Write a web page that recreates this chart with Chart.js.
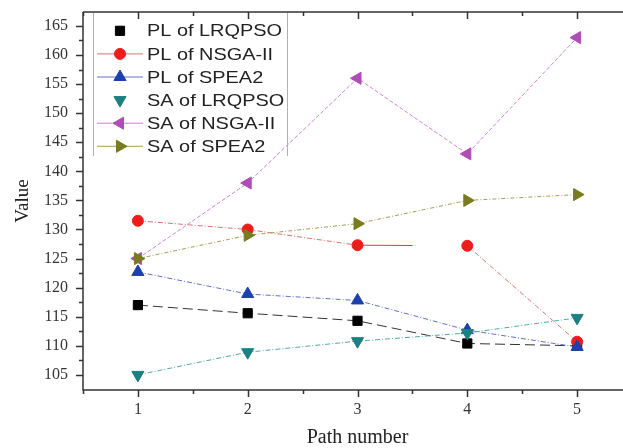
<!DOCTYPE html>
<html>
<head>
<meta charset="utf-8">
<script src="https://cdn.jsdelivr.net/npm/chart.js@4.4.0/dist/chart.umd.min.js"></script>
<style>
html, body { margin: 0; padding: 0; overflow: hidden; background: #fff; }
#wrap { width: 640px; height: 448px; position: relative; }
</style>
</head>
<body>
<div id="wrap"><canvas id="chart"></canvas></div>
<script>
// Значения
const pathNumbers = [1, 2, 3, 4, 5];
const plLRQPSO = [117, 115.6, 114.3, 110.4, 110];
const plNSGA2 = [131.5, 130, 127.3, 127.2, 110.7];
const plSPEA2 = [122.7, 118.9, 117.8, 112.7, 109.8];
const saLRQPSO = [105, 108.9, 110.8, 112.2, 114.8];
const saNSGA2 = [125, 138, 156, 143, 163];
const saSPEA2 = [125, 129, 131, 135, 136];

const seriesLabels = ['PL of LRQPSO', 'PL of NSGA-II', 'PL of SPEA2', 'SA of LRQPSO', 'SA of NSGA-II', 'SA of SPEA2'];
const xTickValues = [0.5, 1, 1.5, 2, 2.5, 3, 3.5, 4, 4.5, 5, 5.5];
const yTickValues = [105, 107.5, 110, 112.5, 115, 117.5, 120, 122.5, 125, 127.5, 130, 132.5, 135, 137.5,
    140, 142.5, 145, 147.5, 150, 152.5, 155, 157.5, 160, 162.5, 165];

// стиль каждой серии
const styles = [
    { color: '#000000', line: '#333333', dash: [10, 5], point: 'rect', radius: 6.5, rot: 0, legendLine: false },
    { color: '#ee1c1c', line: '#e07070', dash: [5, 2, 1, 2], point: 'circle', radius: 5.5, rot: 0, legendLine: true },
    { color: '#1e3fae', line: '#6070c8', dash: [5, 2, 1, 2], point: 'triangle', radius: 7, rot: 0, legendLine: true },
    { color: '#1c8080', line: '#50a8a8', dash: [5, 2, 1, 2], point: 'triangle', radius: 7, rot: 180, legendLine: false },
    { color: '#b04cb8', line: '#d080d4', dash: [4, 2], point: 'triangle', radius: 7, rot: 270, legendLine: true },
    { color: '#7a7a1e', line: '#a0a050', dash: [4, 2, 1, 2], point: 'triangle', radius: 7, rot: 90, legendLine: true }
];
const seriesValues = [plLRQPSO, plNSGA2, plSPEA2, saLRQPSO, saNSGA2, saSPEA2];

const datasets = seriesValues.map((vals, i) => {
    const s = styles[i];
    const ds = {
        label: seriesLabels[i],
        data: pathNumbers.map((p, k) => ({ x: p, y: vals[k] })),
        borderColor: s.line,
        borderWidth: 1,
        borderDash: s.dash,
        pointStyle: s.point,
        pointRotation: s.rot,
        pointRadius: s.radius,
        pointHoverRadius: s.radius,
        pointBackgroundColor: s.color,
        pointBorderColor: s.color,
        pointBorderWidth: 1,
        tension: 0,
        order: 6 - i
    };
    // у PL of NSGA-II линия между 3 и 4 обрывается на середине
    if (i === 1) {
        ds.segment = {
            borderDash: ctx => ctx.p0DataIndex === 2 ? [55, 1000] : undefined,
            borderColor: ctx => ctx.p0DataIndex === 2 ? '#d04040' : undefined
        };
    }
    return ds;
});

// рамка осей с засечками
const axesFrame = {
    id: 'axesFrame',
    beforeDatasetsDraw(chart) {
        const { ctx, chartArea: a, scales: { x, y } } = chart;
        ctx.save();
        ctx.strokeStyle = '#333';
        ctx.lineWidth = 1.5;
        ctx.beginPath();
        ctx.moveTo(a.left, a.top);
        ctx.lineTo(a.right, a.top);
        ctx.moveTo(a.left, a.top);
        ctx.lineTo(a.left, a.bottom);
        ctx.lineTo(a.right, a.bottom);
        x.ticks.forEach(t => {
            const px = Math.round(x.getPixelForValue(t.value)) + 0.5;
            const len = Number.isInteger(t.value) ? 7 : 4;
            ctx.moveTo(px, a.bottom);
            ctx.lineTo(px, a.bottom + len);
            ctx.moveTo(px, a.top);
            ctx.lineTo(px, a.top + len);
        });
        y.ticks.forEach(t => {
            const py = Math.round(y.getPixelForValue(t.value)) + 0.5;
            const len = t.value % 5 === 0 ? 7 : 4;
            ctx.moveTo(a.left, py);
            ctx.lineTo(a.left - len, py);
        });
        ctx.stroke();
        ctx.restore();
    }
};

// легенда в стиле Origin
const originLegend = {
    id: 'originLegend',
    afterDatasetsDraw(chart) {
        const ctx = chart.ctx;
        ctx.save();
        ctx.strokeStyle = '#b0b0b0';
        ctx.lineWidth = 1;
        ctx.beginPath();
        ctx.moveTo(93.5, 13);
        ctx.lineTo(93.5, 156);
        ctx.moveTo(287.5, 13);
        ctx.lineTo(287.5, 156);
        ctx.stroke();

        ctx.font = '17px "Liberation Sans", Arial, sans-serif';
        const sx = 135 / ctx.measureText(seriesLabels[0]).width;
        seriesLabels.forEach((label, i) => {
            const s = styles[i];
            const yy = 30.8 + i * 23.1;
            if (s.legendLine) {
                ctx.strokeStyle = s.line;
                ctx.setLineDash([]);
                ctx.beginPath();
                ctx.moveTo(97, yy);
                ctx.lineTo(143, yy);
                ctx.stroke();
            }
            ctx.fillStyle = s.color;
            ctx.strokeStyle = s.color;
            Chart.helpers.drawPoint(ctx, { pointStyle: s.point, radius: s.radius, rotation: s.rot, borderWidth: 1 }, 120, yy);
            ctx.save();
            ctx.translate(147, yy);
            ctx.scale(sx, 1);
            ctx.fillStyle = '#222';
            ctx.textBaseline = 'middle';
            ctx.fillText(label, 0, 1);
            ctx.restore();
        });
        ctx.restore();
    }
};

new Chart(document.getElementById('chart').getContext('2d'), {
    type: 'line',
    data: { datasets: datasets },
    options: {
        responsive: true,
        maintainAspectRatio: false,
        animation: false,
        layout: { padding: { left: 0, top: 12, right: 8, bottom: 0 } },
        plugins: {
            legend: { display: false },
            tooltip: { enabled: false }
        },
        scales: {
            x: {
                type: 'linear',
                min: 0.5,
                max: 5.5,
                afterBuildTicks: scale => { scale.ticks = xTickValues.map(v => ({ value: v })); },
                afterFit: scale => {
                    scale.height = 58;
                    scale.paddingLeft = 0;
                    scale.paddingRight = 0;
                },
                grid: { display: false, drawTicks: false },
                border: { display: false },
                ticks: {
                    autoSkip: false,
                    maxRotation: 0,
                    padding: 10,
                    color: '#333',
                    font: { family: '"Liberation Serif", "Times New Roman", serif', size: 16 },
                    callback: v => Number.isInteger(v) ? v : ''
                },
                title: {
                    display: true,
                    text: 'Path number',
                    color: '#222',
                    padding: 0,
                    font: { family: '"Liberation Serif", "Times New Roman", serif', size: 20, lineHeight: 1 }
                }
            },
            y: {
                min: 102.4,
                max: 167.4,
                afterBuildTicks: scale => { scale.ticks = yTickValues.map(v => ({ value: v })); },
                afterFit: scale => {
                    scale.width = 83;
                    scale.paddingTop = 0;
                    scale.paddingBottom = 0;
                },
                grid: { display: false, drawTicks: false },
                border: { display: false },
                ticks: {
                    autoSkip: false,
                    padding: 15,
                    color: '#333',
                    font: { family: '"Liberation Serif", "Times New Roman", serif', size: 16 },
                    callback: v => v % 5 === 0 ? v : ''
                },
                title: {
                    display: true,
                    text: 'Value',
                    color: '#222',
                    padding: { top: 14, bottom: 0 },
                    font: { family: '"Liberation Serif", "Times New Roman", serif', size: 19, lineHeight: 1 }
                }
            }
        }
    },
    plugins: [axesFrame, originLegend]
});
</script>
</body>
</html>
